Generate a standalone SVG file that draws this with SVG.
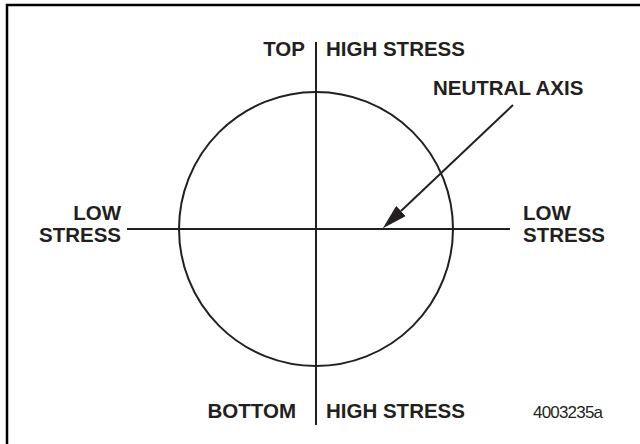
<svg xmlns="http://www.w3.org/2000/svg" width="640" height="444" viewBox="0 0 640 444">
  <style>
    .lbl { font-family: "Liberation Sans", Arial, Helvetica, sans-serif; font-weight: bold; font-size: 20.5px; fill: #231f20; }
    .num { font-family: "Liberation Sans", Arial, Helvetica, sans-serif; font-size: 17px; letter-spacing: -0.8px; fill: #231f20; }
    .ln { stroke: #231f20; stroke-width: 2; fill: none; }
  </style>
  <defs>
    <marker id="ah" markerUnits="userSpaceOnUse" viewBox="0 0 25 14" refX="0" refY="7" markerWidth="25" markerHeight="14" orient="auto">
      <path d="M0,0 L25,7 L0,14 z" fill="#231f20"/>
    </marker>
  </defs>
  <rect width="640" height="444" fill="#ffffff"/>
  <g id="frame">
    <path d="M7,444 L7,5 L640,5" stroke="#000" stroke-width="2.5" fill="none"/>
  </g>
  <g id="section">
    <circle class="ln" cx="316" cy="229" r="137"/>
  </g>
  <g id="connectors">
    <line class="ln" x1="316" y1="42" x2="316" y2="425"/>
    <line class="ln" x1="127" y1="229" x2="510" y2="229"/>
    <line class="ln" x1="513" y1="105" x2="401" y2="211" marker-end="url(#ah)"/>
  </g>
  <g id="top-label">
    <text class="lbl" x="305" y="56" text-anchor="end">TOP</text>
    <text class="lbl" x="326" y="56">HIGH STRESS</text>
  </g>
  <g id="neutral-axis-label">
    <text class="lbl" x="433" y="95">NEUTRAL AXIS</text>
  </g>
  <g id="left-label">
    <text class="lbl" x="121" y="220" text-anchor="end">LOW</text>
    <text class="lbl" x="121" y="242" text-anchor="end">STRESS</text>
  </g>
  <g id="right-label">
    <text class="lbl" x="523" y="220">LOW</text>
    <text class="lbl" x="523" y="242">STRESS</text>
  </g>
  <g id="bottom-label">
    <text class="lbl" x="296" y="418" text-anchor="end">BOTTOM</text>
    <text class="lbl" x="326" y="418">HIGH STRESS</text>
  </g>
  <g id="figure-number">
    <text class="num" x="533" y="418">4003235a</text>
  </g>
</svg>
